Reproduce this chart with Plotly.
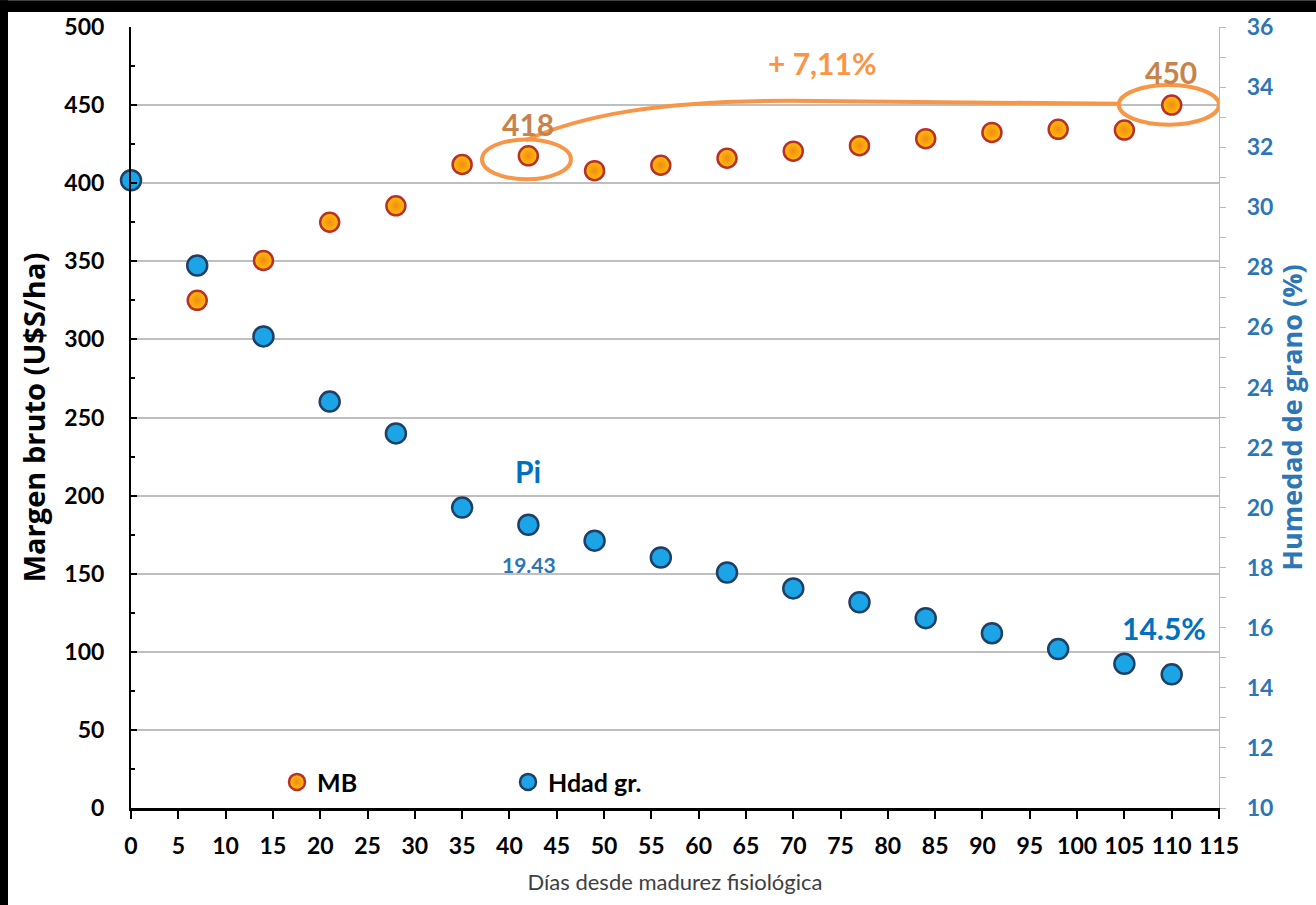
import plotly.graph_objects as go

# ---- data ----
days_mb = [7, 14, 21, 28, 35, 42, 49, 56, 63, 70, 77, 84, 91, 98, 105, 110]
mb_values = [325, 350.5, 375, 385.5, 412, 417.5, 408, 411.5, 416, 420.5, 424, 428.5, 432.5, 434.5, 434, 450]

days_hum = [0, 7, 14, 21, 28, 35, 42, 49, 56, 63, 70, 77, 84, 91, 98, 105, 110]
hum_values = [30.9, 28.06, 25.7, 23.53, 22.47, 20.0, 19.43, 18.9, 18.34, 17.84, 17.31, 16.85, 16.32, 15.82, 15.29, 14.8, 14.45]

x_ticks = list(range(0, 120, 5))
left_ticks = list(range(0, 550, 50))
right_ticks = list(range(10, 38, 2))

FONT = "Lato"
TFONT = "Open Sans"
BLUE = "#0070C0"
ORANGE = "#F79646"

fig = go.Figure()

fig.add_trace(go.Scatter(
    x=days_mb, y=mb_values, mode="markers", name="MB", cliponaxis=False,
    marker=dict(size=19, color="#FFC000",
                gradient=dict(type="radial", color="#F28A1A"),
                line=dict(color="#B8302A", width=2.5)),
    yaxis="y",
))
fig.add_trace(go.Scatter(
    x=days_hum, y=hum_values, mode="markers", name="Hdad gr.", cliponaxis=False,
    marker=dict(size=20, color="#1BA4E6", line=dict(color="#1F3F66", width=2.5)),
    yaxis="y2",
))

W, H = 1316, 905
ml, mr, mt, mb_ = 131, 97, 22, 97
pw, ph = W - ml - mr, H - mt - mb_

def px_x(p):
    return (p - ml) / pw

def px_y(p):
    return (H - mb_ - p) / ph

shapes = []
# black frame on top and left
shapes.append(dict(type="rect", xref="paper", yref="paper", layer="below",
                   x0=px_x(-5), x1=px_x(W + 5), y0=px_y(7), y1=px_y(-5),
                   fillcolor="black", line=dict(width=0)))
shapes.append(dict(type="rect", xref="paper", yref="paper", layer="below",
                   x0=px_x(-5), x1=px_x(8), y0=px_y(H + 5), y1=px_y(-5),
                   fillcolor="black", line=dict(width=0)))

# ellipses around 418 and 450
i42 = days_mb.index(42)
i110 = days_mb.index(110)
shapes.append(dict(type="circle", xref="x", yref="y",
                   x0=days_mb[i42] - 4.9, x1=days_mb[i42] + 4.5,
                   y0=mb_values[i42] - 15, y1=mb_values[i42] + 10.5,
                   line=dict(color=ORANGE, width=4)))
shapes.append(dict(type="circle", xref="x", yref="y",
                   x0=days_mb[i110] - 5.6, x1=days_mb[i110] + 5.0,
                   y0=mb_values[i110] - 12.5, y1=mb_values[i110] + 12.8,
                   line=dict(color=ORANGE, width=4)))
# connecting curve
x_start, y_start = days_mb[i42] - 0.3, mb_values[i42] + 10
x_end, y_end = days_mb[i110] - 5.6, mb_values[i110] + 0.8
path = (f"M {x_start},{y_start} C {x_start + 6},{y_start + 16} "
        f"{x_start + 14},{y_end + 2} {x_start + 28},{y_end + 2} L {x_end},{y_end}")
shapes.append(dict(type="path", xref="x", yref="y", path=path,
                   line=dict(color=ORANGE, width=4)))

annotations = [
    dict(x=days_mb[i42], y=mb_values[i42] + 20.5, xref="x", yref="y", text="<b>418</b>",
         showarrow=False, font=dict(family=FONT, size=30, color="#C8824A")),
    dict(x=days_mb[i110] - 0.1, y=mb_values[i110] + 21, xref="x", yref="y", text="<b>450</b>",
         showarrow=False, font=dict(family=FONT, size=30, color="#C8824A")),
    dict(x=73.1, y=477, xref="x", yref="y", text="<b>+ 7,11%</b>",
         showarrow=False, font=dict(family=FONT, size=30, color=ORANGE)),
    dict(x=days_hum[6], y=hum_values[6] + 1.78, xref="x", yref="y2", text="<b>Pi</b>",
         showarrow=False, font=dict(family=FONT, size=30, color=BLUE)),
    dict(x=days_hum[6] + 0.1, y=hum_values[6] - 1.33, xref="x", yref="y2", text="<b>19.43</b>",
         showarrow=False, font=dict(family=FONT, size=21, color="#2E75B6")),
    dict(x=109.2, y=hum_values[-1] + 1.55, xref="x", yref="y2", text="<b>14.5%</b>",
         showarrow=False, font=dict(family=FONT, size=30, color=BLUE)),
]

fig.update_layout(
    width=W, height=H,
    margin=dict(l=ml, r=mr, t=mt, b=mb_, pad=0),
    paper_bgcolor="white",
    plot_bgcolor="rgba(0,0,0,0)",
    font=dict(family=FONT, color="black"),
    shapes=shapes,
    annotations=annotations,
    showlegend=True,
    legend=dict(orientation="h", x=px_x(277), y=px_y(782), xanchor="left", yanchor="middle",
                bgcolor="rgba(0,0,0,0)", font=dict(family=FONT, size=25, color="black", weight="bold"),
                entrywidth=186, entrywidthmode="pixels", itemsizing="trace"),
    xaxis=dict(
        range=[0, 115], tickvals=x_ticks, ticktext=[str(v) for v in x_ticks],
        showgrid=False, zeroline=False,
        showline=True, linecolor="black", linewidth=3,
        ticks="outside", ticklen=8, tickwidth=2, tickcolor="black",
        tickfont=dict(family=FONT, size=23, color="black", weight="bold"),
        ticklabelstandoff=7,
        title=dict(text="Días desde madurez fisiológica", standoff=18,
                   font=dict(family=FONT, size=22, color="#404040")),
    ),
    yaxis=dict(
        range=[0, 500], tickvals=left_ticks, ticktext=[str(v) for v in left_ticks],
        showgrid=True, gridcolor="#BFBFBF", gridwidth=1.5, zeroline=False,
        showline=True, linecolor="black", linewidth=2,
        ticks="inside", ticklen=6, tickwidth=2, tickcolor="black",
        minor=dict(dtick=25, ticks="inside", ticklen=4, tickcolor="black", tickwidth=2, showgrid=False),
        tickfont=dict(family=FONT, size=23, color="black", weight="bold"),
        ticklabelstandoff=20,
        title=dict(text="<b>Margen bruto (U$S/ha)</b>", standoff=10,
                   font=dict(family=TFONT, size=29, color="black")),
    ),
    yaxis2=dict(
        range=[10, 36], overlaying="y", side="right", anchor="x",
        tickvals=right_ticks, ticktext=[str(v) for v in right_ticks],
        showgrid=False, zeroline=False,
        showline=True, linecolor="#A9BCD2", linewidth=1.2,
        ticks="outside", ticklen=6, tickwidth=1, tickcolor="#A9BCD2",
        minor=dict(dtick=1, ticks="outside", ticklen=6, tickcolor="#A9BCD2", tickwidth=1),
        tickfont=dict(family=FONT, size=23, color="#2E75B6", weight="bold"),
        ticklabelstandoff=16,
        title=dict(text="<b>Humedad de grano (%)</b>", standoff=7,
                   font=dict(family=TFONT, size=27, color="#2E75B6")),
    ),
)

fig.write_html(
    "out.html",
    post_script="document.documentElement.style.overflow='hidden';document.body.style.overflow='hidden';document.body.style.margin='0';",
)
